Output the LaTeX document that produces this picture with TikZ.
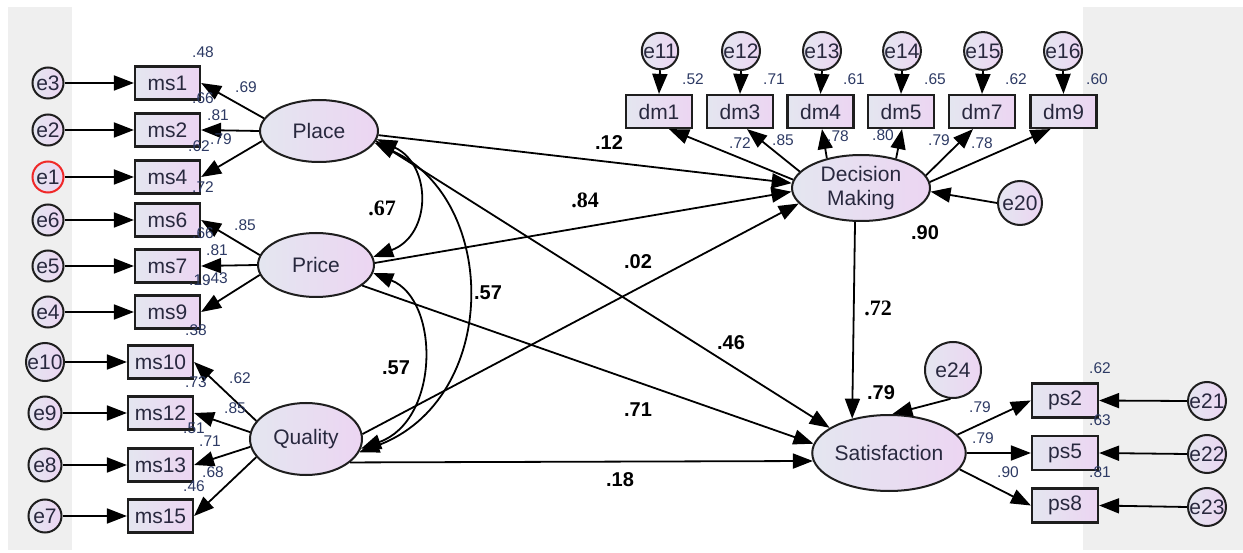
\documentclass[tikz,border=0pt]{standalone}
\usepackage{fontspec}
\setmainfont{Liberation Sans}
\newfontfamily\serifB{Liberation Serif}
\usetikzlibrary{arrows.meta,shapes.geometric,calc}
\definecolor{bgg}{RGB}{239,239,239}
\definecolor{fl}{RGB}{228,230,240}
\definecolor{fr}{RGB}{236,213,242}
\definecolor{txt}{RGB}{40,40,62}
\definecolor{lbl}{RGB}{45,58,100}
\definecolor{edge}{RGB}{30,30,30}
\definecolor{redb}{RGB}{240,40,40}
\newcommand\fN{\fontsize{21}{24}\selectfont}
\newcommand\fS{\fontsize{15.5}{17}\selectfont}
\newcommand\fB{\fontsize{20}{22}\selectfont\bfseries}
\newcommand\fT{\fontsize{22}{24}\selectfont\serifB\bfseries}
\tikzset{
  box/.style={rectangle, draw=edge, line width=2.2pt, minimum width=65pt, minimum height=33pt, inner sep=0pt, left color=fl, right color=fr, text=txt, font=\fN},
  lat/.style={ellipse, draw=edge, line width=2pt, inner sep=0pt, left color=fl, right color=fr, text=txt, font=\fN, align=center},
  err/.style={circle, draw=edge, line width=2pt, inner sep=0pt, minimum size=31pt, left color=fl, right color=fr, text=txt, font=\fN},
  ar/.style={draw=black, line width=1.8pt, -{Triangle[length=20pt,width=15pt]}},
  dar/.style={draw=black, line width=1.8pt, {Triangle[length=20pt,width=15pt]}-{Triangle[length=20pt,width=15pt]}},
  sl/.style={font=\fS, text=lbl, inner sep=0pt},
  bl/.style={font=\fB, inner sep=0pt},
  tl/.style={font=\fT, inner sep=0pt},
}
\begin{document}
\begin{tikzpicture}[x=1pt,y=-1pt]
\useasboundingbox (0,0) rectangle (1243,553);
\fill[white] (0,0) rectangle (1243,553);
\fill[bgg] (8,7) rectangle (72,550);
\fill[bgg] (1083,7) rectangle (1243,550);

% latent variables
\node[lat, minimum width=118pt, minimum height=62pt] (Place) at (319,131) {Place};
\node[lat, minimum width=116pt, minimum height=64pt] (Price) at (316,265) {Price};
\node[lat, minimum width=112pt, minimum height=72pt] (Quality) at (306,439) {Quality};
\node[lat, minimum width=138pt, minimum height=66pt] (DM) at (861,188) {Decision\\Making};
\node[lat, minimum width=138pt, minimum height=76pt] (Sat) at (889,453) {Satisfaction};

% left boxes
\node[box] (ms1) at (167.5,83) {ms1};
\node[box] (ms2) at (167.5,130) {ms2};
\node[box] (ms4) at (167.5,177) {ms4};
\node[box] (ms6) at (167.5,220) {ms6};
\node[box] (ms7) at (167.5,266) {ms7};
\node[box] (ms9) at (167.5,312) {ms9};
\node[box] (ms10) at (160.5,362) {ms10};
\node[box] (ms12) at (160.5,413) {ms12};
\node[box] (ms13) at (160.5,465) {ms13};
\node[box] (ms15) at (160.5,516) {ms15};

% left errors
\node[err] (e3) at (48,83) {e3};
\node[err] (e2) at (48,130) {e2};
\node[err, draw=redb] (e1) at (48,177) {e1};
\node[err] (e6) at (48,220) {e6};
\node[err] (e5) at (48,266) {e5};
\node[err] (e4) at (48,312) {e4};
\node[err, minimum size=33pt] (e10) at (45,362) {e10};
\node[err, minimum size=33pt] (e9) at (45,413) {e9};
\node[err, minimum size=33pt] (e8) at (45,465) {e8};
\node[err, minimum size=33pt] (e7) at (45,516) {e7};

% top boxes
\node[box, minimum width=66pt] (dm1) at (659,111.5) {dm1};
\node[box, minimum width=66pt] (dm3) at (740,111.5) {dm3};
\node[box, minimum width=66pt] (dm4) at (820.5,111.5) {dm4};
\node[box, minimum width=66pt] (dm5) at (901,111.5) {dm5};
\node[box, minimum width=66pt] (dm7) at (982,111.5) {dm7};
\node[box, minimum width=66pt] (dm9) at (1063.5,111.5) {dm9};

\node[err, minimum size=28pt] (e11) at (660,51) {e11};
\node[err, minimum size=28pt] (e12) at (741,51) {e12};
\node[err, minimum size=28pt] (e13) at (822,51) {e13};
\node[err, minimum size=28pt] (e14) at (902,51) {e14};
\node[err, minimum size=28pt] (e15) at (983,51) {e15};
\node[err, minimum size=28pt] (e16) at (1063,51) {e16};

\node[err, minimum size=44pt] (e20) at (1020,203) {e20};
\node[err, minimum size=56pt] (e24) at (953,370) {e24};

% right boxes
\node[box, minimum width=66pt, minimum height=34pt] (ps2) at (1065,400.5) {ps2};
\node[box, minimum width=66pt, minimum height=34pt] (ps5) at (1065,453) {ps5};
\node[box, minimum width=66pt, minimum height=34pt] (ps8) at (1065,505.5) {ps8};
\node[err, minimum size=36pt] (e21) at (1207,401) {e21};
\node[err, minimum size=36pt] (e22) at (1207,454) {e22};
\node[err, minimum size=36pt] (e23) at (1207,507) {e23};

% error arrows
\foreach \e/\m in {e3/ms1,e2/ms2,e1/ms4,e6/ms6,e5/ms7,e4/ms9,e10/ms10,e9/ms12,e8/ms13,e7/ms15}
  \draw[ar] (\e.east) -- (\m.west);
\foreach \e/\m in {e11/dm1,e12/dm3,e13/dm4,e14/dm5,e15/dm7,e16/dm9}
  \draw[ar] (\e.south) -- (\m.north);
\foreach \e/\m in {e21/ps2,e22/ps5,e23/ps8}
  \draw[ar] (\e.west) -- (\m.east);

% loadings
\draw[ar] (Place.167) -- (ms1.east);
\draw[ar] (Place.180) -- (ms2.east);
\draw[ar] (Place.190) -- (ms4.east);
\draw[ar] (Price.170) -- (ms6.east);
\draw[ar] (Price.180) -- (ms7.east);
\draw[ar] (Price.190) -- (ms9.east);
\draw[ar] (Quality.160) -- (ms10.east);
\draw[ar] (Quality.173) -- (ms12.east);
\draw[ar] (Quality.188) -- (ms13.east);
\draw[ar] (Quality.200) -- (ms15.east);

\draw[ar] (DM.173) -- ([xshift=10pt]dm1.south);
\draw[ar] (DM.165) -- ([xshift=7pt]dm3.south);
\draw[ar] (DM.139) -- ([xshift=1.5pt]dm4.south);
\draw[ar] (DM.40) -- ([xshift=1pt]dm5.south);
\draw[ar] (DM.11) -- ([xshift=-9pt]dm7.south);
\draw[ar] (DM.5) -- ([xshift=-13pt]dm9.south);
\draw[ar] (e20.west) -- (DM.-3);

\draw[ar] (Sat.15) -- (ps2.west);
\draw[ar] (Sat.0) -- (ps5.west);
\draw[ar] (Sat.-13) -- (ps8.west);
\draw[ar] (e24.-95) -- (Sat.85);

% structural paths
\draw[ar] (Place.-4) -- (DM.176);
\draw[ar] (Price.2) -- (DM.183);
\draw[ar] (Quality.5) -- (DM.194);
\draw[ar] (Place.-10) -- (Sat.157);
\draw[ar] (Price.-24) -- (Sat.173);
\draw[ar] (Quality.-28) -- (Sat.186);
\draw[ar] (DM.-100) -- (Sat.137);

% covariances
\draw[dar] (Place.-8) .. controls (432,165) and (432,235) .. (Price.8);
\draw[dar] (Place.-12) .. controls (500,200) and (500,400) .. (Quality.-14);
\draw[dar] (Price.-8) .. controls (440,300) and (440,420) .. (Quality.-10);

% small labels
\node[sl] (l1) at (203,52) {.48};
\node[sl] (l2) at (246,87) {.69};
\node[sl] (l3) at (203,98) {.66};
\node[sl] (l4) at (218,115) {.81};
\node[sl] (l5) at (199,146) {.62};
\node[sl] (l6) at (221,139) {.79};
\node[sl] (l7) at (203,187) {.72};
\node[sl] (l8) at (245,225) {.85};
\node[sl] (l9) at (203,233) {.66};
\node[sl] (l10) at (217,250) {.81};
\node[sl] (l11) at (200,280) {.19};
\node[sl] (l12) at (217,278) {.43};
\node[sl] (l13) at (196,330) {.38};
\node[sl] (l14) at (240,378) {.62};
\node[sl] (l15) at (196,382) {.73};
\node[sl] (l16) at (235,408) {.85};
\node[sl] (l17) at (194,428) {.51};
\node[sl] (l18) at (210,441) {.71};
\node[sl] (l19) at (213,472) {.68};
\node[sl] (l20) at (194,486) {.46};

\node[sl] (t1) at (693,79) {.52};
\node[sl] (t2) at (774,79) {.71};
\node[sl] (t3) at (854,79) {.61};
\node[sl] (t4) at (935,79) {.65};
\node[sl] (t5) at (1016,79) {.62};
\node[sl] (t6) at (1097,79) {.60};
\node[sl] (t7) at (740,143) {.72};
\node[sl] (t8) at (783,140) {.85};
\node[sl] (t9) at (838,136) {.78};
\node[sl] (t10) at (883,135) {.80};
\node[sl] (t11) at (939,140) {.79};
\node[sl] (t12) at (982,143) {.78};

\node[sl] (r1) at (980,407) {.79};
\node[sl] (r2) at (983,438) {.79};
\node[sl] (r3) at (1008,472) {.90};
\node[sl] (r4) at (1100,368) {.62};
\node[sl] (r5) at (1100,420) {.63};
\node[sl] (r6) at (1100,472) {.81};

% bold labels
\node[bl] (b1) at (609,143) {.12};
\node[tl] (b2) at (585,200) {.84};
\node[tl] (b3) at (382,208) {.67};
\node[bl] (b4) at (638,262) {.02};
\node[bl] (b5) at (488,293) {.57};
\node[bl] (b6) at (396,368) {.57};
\node[bl] (b7) at (731,343) {.46};
\node[bl] (b8) at (638,410) {.71};
\node[bl] (b9) at (620,480) {.18};
\node[bl] (b10) at (925,233) {.90};
\node[tl] (b11) at (878,308) {.72};
\node[bl] (b12) at (881,393) {.79};
\end{tikzpicture}
\end{document}
